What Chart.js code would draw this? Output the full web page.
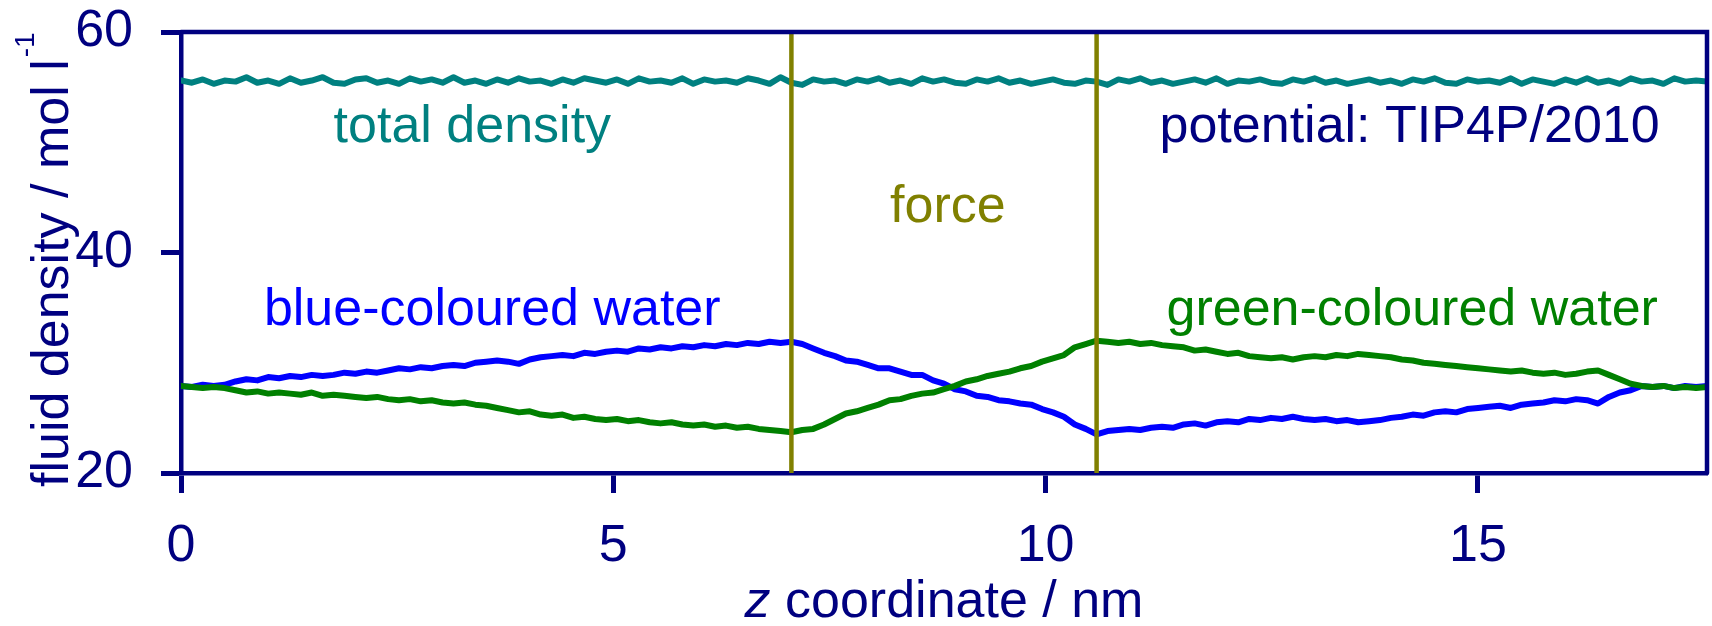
<!DOCTYPE html>
<html>
<head>
<meta charset="utf-8">
<script src="https://cdn.jsdelivr.net/npm/chart.js@4/dist/chart.umd.min.js"></script>
<style>
  html, body { margin: 0; padding: 0; background: #ffffff; }
  #wrap { width: 1712px; height: 626px; }
</style>
</head>
<body>
<div id="wrap"><canvas id="c" width="1712" height="626"></canvas></div>
<script>
// ---- data ----
const zMax = 17.65;                    // box length / nm
const nSamples = 141;                  // sampling points along z
const zGrid = Array.from({length: nSamples}, (_, i) => +(i * zMax / (nSamples - 1)).toFixed(4));

const totalDensity = [
55.6,55.4,55.7,55.3,55.6,55.5,55.9,55.4,55.6,55.3,
55.8,55.4,55.6,55.9,55.4,55.3,55.7,55.8,55.4,55.6,
55.3,55.8,55.5,55.7,55.4,55.9,55.4,55.6,55.3,55.7,
55.4,55.8,55.5,55.6,55.3,55.7,55.4,55.8,55.6,55.4,
55.7,55.3,55.8,55.5,55.6,55.4,55.8,55.3,55.7,55.5,
55.6,55.4,55.8,55.6,55.3,55.9,55.4,55.2,55.7,55.5,
55.6,55.3,55.7,55.5,55.8,55.4,55.6,55.3,55.8,55.5,
55.7,55.4,55.3,55.7,55.5,55.8,55.4,55.6,55.3,55.5,
55.7,55.4,55.3,55.6,55.5,55.2,55.7,55.5,55.8,55.4,
55.6,55.3,55.5,55.7,55.4,55.8,55.3,55.6,55.5,55.7,
55.4,55.3,55.7,55.5,55.8,55.4,55.6,55.3,55.5,55.7,
55.4,55.6,55.3,55.7,55.5,55.8,55.4,55.3,55.7,55.5,
55.6,55.4,55.8,55.3,55.7,55.5,55.3,55.7,55.4,55.8,
55.4,55.6,55.3,55.8,55.5,55.6,55.3,55.8,55.5,55.6,
55.5
];

const blueWater = [
27.9,27.8,28.0,27.9,28.0,28.3,28.5,28.4,28.7,28.6,
28.8,28.7,28.9,28.8,28.9,29.1,29.0,29.2,29.1,29.3,
29.5,29.4,29.6,29.5,29.7,29.8,29.7,30.0,30.1,30.2,
30.1,29.9,30.3,30.5,30.6,30.7,30.6,30.9,30.8,31.0,
31.1,31.0,31.3,31.2,31.4,31.3,31.5,31.4,31.6,31.5,
31.7,31.6,31.8,31.7,31.9,31.8,31.9,31.7,31.3,30.9,
30.6,30.2,30.1,29.8,29.5,29.5,29.2,28.9,28.9,28.4,
28.1,27.6,27.4,27.0,26.9,26.6,26.5,26.3,26.2,25.8,
25.5,25.1,24.4,24.0,23.5,23.8,23.9,24.0,23.9,24.1,
24.2,24.1,24.4,24.5,24.3,24.6,24.7,24.6,24.9,24.8,
25.0,24.9,25.1,24.9,24.8,24.9,24.7,24.8,24.6,24.7,
24.8,25.0,25.1,25.3,25.2,25.5,25.6,25.5,25.8,25.9,
26.0,26.1,25.9,26.2,26.3,26.4,26.6,26.5,26.7,26.6,
26.3,26.9,27.3,27.5,27.9,27.8,27.9,27.7,27.9,27.8,
27.9
];

const greenWater = [
27.9,27.8,27.7,27.8,27.7,27.5,27.3,27.4,27.2,27.3,
27.2,27.1,27.3,27.0,27.1,27.0,26.9,26.8,26.9,26.7,
26.6,26.7,26.5,26.6,26.4,26.3,26.4,26.2,26.1,25.9,
25.7,25.5,25.6,25.3,25.2,25.3,25.0,25.1,24.9,24.8,
24.9,24.7,24.8,24.6,24.5,24.6,24.4,24.3,24.4,24.2,
24.3,24.1,24.2,24.0,23.9,23.8,23.7,23.9,24.0,24.4,
24.9,25.4,25.6,25.9,26.2,26.6,26.7,27.0,27.2,27.3,
27.6,27.9,28.3,28.5,28.8,29.0,29.2,29.5,29.7,30.1,
30.4,30.7,31.4,31.7,32.0,31.9,31.8,31.9,31.7,31.8,
31.6,31.5,31.4,31.1,31.2,31.0,30.8,30.9,30.6,30.5,
30.4,30.5,30.3,30.5,30.6,30.5,30.7,30.6,30.8,30.7,
30.6,30.5,30.3,30.2,30.0,29.9,29.8,29.7,29.6,29.5,
29.4,29.3,29.2,29.3,29.1,29.0,29.1,28.9,29.0,29.2,
29.3,28.9,28.5,28.1,27.9,27.8,27.9,27.7,27.8,27.7,
27.8
];

const forceZ = [7.06, 10.59];          // boundaries of the forced region
const yRange = [20, 60];
const xTickValues = [0, 5, 10, 15];
const yTickValues = [20, 40, 60];

const labelTexts = {
  total: 'total density',
  potential: 'potential: TIP4P/2010',
  force: 'force',
  blue: 'blue-coloured water',
  green: 'green-coloured water'
};
const xTitleItalic = 'z';
const xTitleRest = ' coordinate / nm';
const yTitleMain = 'fluid density / mol l';
const yTitleSup = '-1';

// ---- styles ----
const NAVY = '#000080', TEAL = '#008080', BLUE = '#0000ff', GREEN = '#008000', OLIVE = '#808000';
const FONT = "'Liberation Sans', Arial, Helvetica, sans-serif";
const FS = 52;

const toPts = (ys) => zGrid.map((z, i) => ({x: z, y: ys[i]}));

const annotations = [
  {text: labelTexts.total,     x: 3.37,  y: 50.0, color: TEAL},
  {text: labelTexts.potential, x: 14.21, y: 50.0, color: NAVY},
  {text: labelTexts.force,     x: 8.87,  y: 42.8, color: OLIVE},
  {text: labelTexts.blue,      x: 3.6,   y: 33.4, color: BLUE},
  {text: labelTexts.green,     x: 14.24, y: 33.4, color: GREEN}
];

const decorPlugin = {
  id: 'decor',
  afterDraw(chart) {
    const {ctx, chartArea: ca, scales} = chart;
    const xs = scales.x, ys = scales.y;
    ctx.save();
    // top and right frame
    ctx.strokeStyle = NAVY; ctx.lineWidth = 4.5; ctx.lineCap = 'round';
    ctx.beginPath();
    ctx.moveTo(ca.left, ca.top); ctx.lineTo(ca.right, ca.top); ctx.lineTo(ca.right, ca.bottom);
    ctx.stroke();
    // annotations
    ctx.font = FS + 'px ' + FONT;
    ctx.textAlign = 'center';
    ctx.textBaseline = 'alphabetic';
    annotations.forEach(a => {
      ctx.fillStyle = a.color;
      ctx.fillText(a.text, xs.getPixelForValue(a.x), ys.getPixelForValue(a.y));
    });
    // x title with italic z
    ctx.fillStyle = NAVY;
    ctx.textAlign = 'left';
    const fItal = 'italic ' + FS + 'px ' + FONT, fNorm = FS + 'px ' + FONT;
    ctx.font = fItal; const w1 = ctx.measureText(xTitleItalic).width;
    ctx.font = fNorm; const w2 = ctx.measureText(xTitleRest).width;
    const cx = (ca.left + ca.right) / 2;
    const by = 617;
    let sx = cx - (w1 + w2) / 2;
    ctx.font = fItal; ctx.fillText(xTitleItalic, sx, by);
    ctx.font = fNorm; ctx.fillText(xTitleRest, sx + w1, by);
    // y title rotated with superscript, starting near the bottom
    const supFont = '28px ' + FONT;
    ctx.font = fNorm; const m1 = ctx.measureText(yTitleMain).width;
    ctx.translate(68, 487);
    ctx.rotate(-Math.PI / 2);
    ctx.font = fNorm; ctx.fillText(yTitleMain, 0, 0);
    ctx.font = supFont; ctx.fillText(yTitleSup, m1 + 2, -34);
    ctx.restore();
  }
};

const lineDs = (label, ys, color) => ({
  label, data: toPts(ys), borderColor: color, backgroundColor: color,
  borderWidth: 6, pointRadius: 0, tension: 0, borderJoinStyle: 'round', borderCapStyle: 'round'
});

const forceDs = forceZ.map((z, k) => ({
  label: 'force' + k,
  data: [{x: z, y: yRange[0]}, {x: z, y: yRange[1]}],
  borderColor: OLIVE, borderWidth: 4.5, pointRadius: 0, borderCapStyle: 'round'
}));

new Chart(document.getElementById('c'), {
  type: 'line',
  data: {
    datasets: [
      ...forceDs,
      lineDs('total density', totalDensity, TEAL),
      lineDs('green-coloured water', greenWater, GREEN),
      lineDs('blue-coloured water', blueWater, BLUE)
    ]
  },
  options: {
    responsive: false,
    animation: false,
    events: [],
    layout: { padding: { top: 32, right: 5, left: 0, bottom: 0 } },
    plugins: { legend: { display: false }, tooltip: { enabled: false } },
    scales: {
      x: {
        type: 'linear', min: 0, max: zMax,
        afterBuildTicks: (s) => { s.ticks = xTickValues.map(v => ({value: v})); },
        afterFit: (s) => { s.height = 153; s.paddingLeft = 0; s.paddingRight = 0; },
        ticks: { color: NAVY, font: { family: FONT, size: FS }, padding: 22, maxRotation: 0, includeBounds: false },
        grid: { drawOnChartArea: false, drawTicks: true, tickLength: 20, tickWidth: 5, tickColor: NAVY, color: NAVY },
        border: { display: true, color: NAVY, width: 4.5 }
      },
      y: {
        type: 'linear', min: yRange[0], max: yRange[1],
        afterBuildTicks: (s) => { s.ticks = yTickValues.map(v => ({value: v})); },
        afterFit: (s) => { s.width = 181; s.paddingTop = 0; s.paddingBottom = 0; },
        ticks: { color: NAVY, font: { family: FONT, size: FS }, padding: 28 },
        grid: { drawOnChartArea: false, drawTicks: true, tickLength: 20, tickWidth: 5, tickColor: NAVY, color: NAVY },
        border: { display: true, color: NAVY, width: 4.5 }
      }
    }
  },
  plugins: [decorPlugin]
});
</script>
</body>
</html>
